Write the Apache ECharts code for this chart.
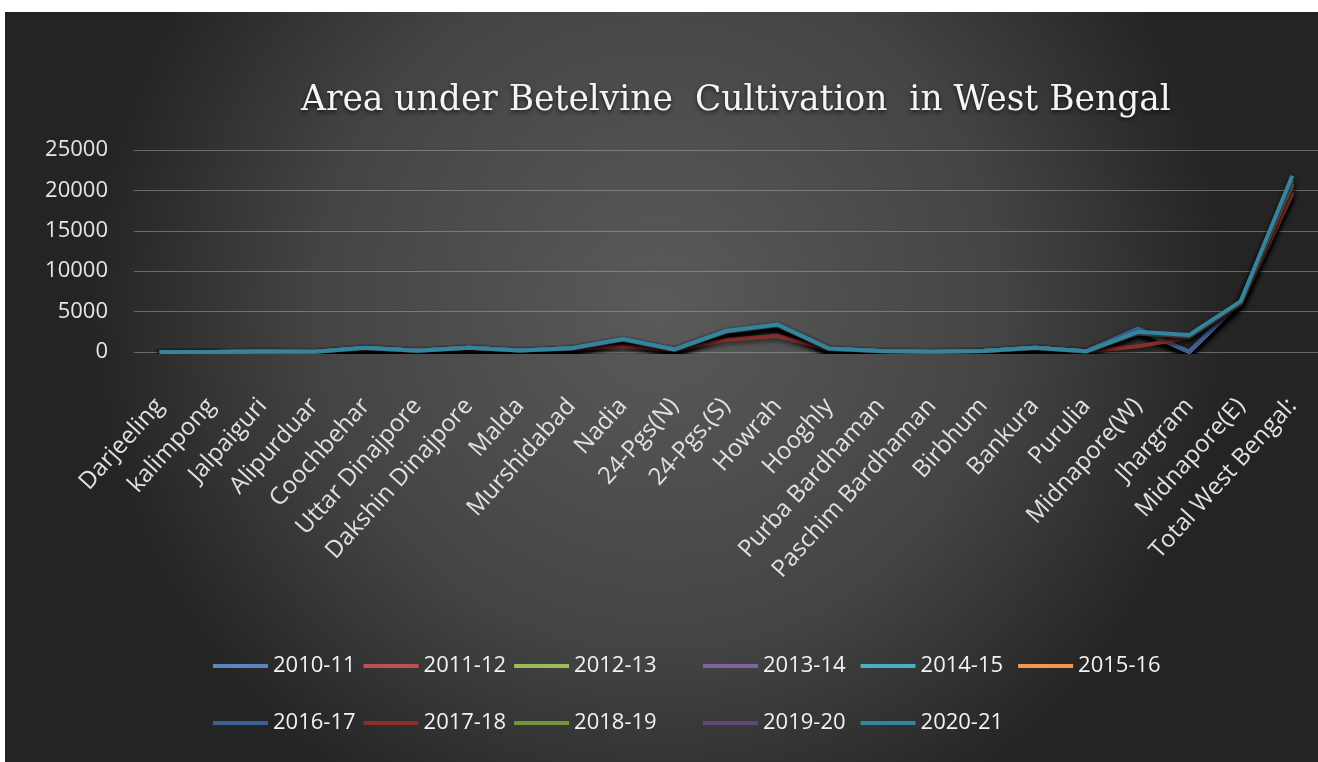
<!DOCTYPE html>
<html>
<head>
<meta charset="utf-8">
<script src="https://cdn.jsdelivr.net/npm/echarts@6/dist/echarts.min.js"></script>
<style>
html,body{margin:0;padding:0;background:#fff;}
#chart{width:1318px;height:762px;}
</style>
</head>
<body>
<div id="chart"></div>
<script>
var title = 'Area under Betelvine  Cultivation  in West Bengal';
var districts = ['Darjeeling','kalimpong','Jalpaiguri','Alipurduar','Coochbehar','Uttar Dinajpore','Dakshin Dinajpore','Malda','Murshidabad','Nadia','24-Pgs(N)','24-Pgs.(S)','Howrah','Hooghly','Purba Bardhaman','Paschim Bardhaman','Birbhum','Bankura','Purulia','Midnapore(W)','Jhargram','Midnapore(E)','Total West Bengal:'];
var years = ['2010-11','2011-12','2012-13','2013-14','2014-15','2015-16','2016-17','2017-18','2018-19','2019-20','2020-21'];
var yTicks = [0, 5000, 10000, 15000, 20000, 25000];

var y2010_11 = [10,0,40,10,450,120,480,150,420,1450,280,2400,3100,380,90,10,100,480,60,2600,0,6100,19500];
var y2011_12 = [10,0,40,10,460,120,490,150,430,1480,290,2450,3150,390,90,10,100,490,60,2650,0,6150,19700];
var y2012_13 = [10,0,40,10,470,130,500,160,430,1500,290,2480,3200,390,100,10,110,500,70,2700,0,6200,19900];
var y2013_14 = [10,0,40,10,480,130,500,160,440,1520,300,2500,3250,400,100,10,110,500,70,2750,0,6250,20200];
var y2014_15 = [10,0,40,10,500,140,520,170,450,1550,300,2550,3300,410,100,10,110,520,70,2800,0,6300,20500];
var y2015_16 = [10,0,40,10,500,140,520,170,450,1560,310,2580,3350,410,100,10,110,520,70,2850,0,6350,20800];
var y2016_17 = [10,10,40,20,520,150,540,180,460,1600,320,2620,3400,420,110,20,120,540,80,2900,0,6400,21200];
var y2017_18 = [10,10,40,20,380,120,420,140,380,700,220,1500,2000,300,80,10,90,420,50,700,1800,5900,19600];
var y2018_19 = [10,10,40,20,500,140,520,170,450,1500,300,2500,3300,400,100,10,110,500,70,2300,1900,6100,20800];
var y2019_20 = [10,10,40,20,510,150,530,180,460,1550,310,2550,3350,410,110,20,120,510,80,2400,2000,6200,21300];
var y2020_21 = [10,10,40,20,520,150,540,180,470,1600,320,2600,3400,420,110,20,120,520,80,2500,2100,6300,21800];

var seriesValues = [y2010_11,y2011_12,y2012_13,y2013_14,y2014_15,y2015_16,y2016_17,y2017_18,y2018_19,y2019_20,y2020_21];
var colors = ['#5b86bd','#c0504d','#9bbb59','#8064a2','#4bacc6','#f79646','#3a6196','#8b2f2d','#77933c','#5f4879','#31859c'];

var chart = echarts.init(document.getElementById('chart'));
var series = years.map(function(y, i){
  return {
    name: y,
    type: 'line',
    data: seriesValues[i],
    symbol: 'none',
    smooth: false,
    lineStyle: {width: 4, color: colors[i], shadowColor: 'rgba(0,0,0,0.55)', shadowBlur: 4, shadowOffsetY: 3},
    itemStyle: {color: colors[i]},
    z: 2 + i
  };
});

var legendText = {color: '#f2f2f2', fontSize: 22, fontFamily: 'Open Sans'};
var legendIcon = 'path://M0,5 L55,5 L55,9 L0,9 Z';
function makeLegend(items, left, top, gap) {
  return {data: items, left: left, top: top, itemWidth: 55, itemHeight: 14, itemGap: gap,
          icon: legendIcon, textStyle: legendText};
}

chart.setOption({
  animation: false,
  backgroundColor: {
    type: 'radial', x: 0.5, y: 0.4, r: 0.75,
    colorStops: [{offset: 0, color: '#5a5a5a'}, {offset: 0.6, color: '#444444'}, {offset: 1, color: '#242424'}]
  },
  color: colors,
  graphic: [
    {type: 'rect', left: 0, top: 0, shape: {width: 1318, height: 12}, style: {fill: '#ffffff'}, z: 100},
    {type: 'rect', left: 0, top: 0, shape: {width: 5, height: 762}, style: {fill: '#ffffff'}, z: 100}
  ],
  title: {
    text: title,
    left: 296, top: 79,
    textStyle: {color: '#f5f5f5', fontSize: 34.5, fontFamily: 'DejaVu Serif', fontWeight: 'normal',
      textShadowColor: 'rgba(0,0,0,0.7)', textShadowBlur: 4, textShadowOffsetY: 2}
  },
  legend: [
    makeLegend(years.slice(0, 3), 208, 650, 8),
    makeLegend(years.slice(3, 6), 698, 650, 15),
    makeLegend(years.slice(6, 9), 208, 707, 8),
    makeLegend(years.slice(9), 698, 707, 15)
  ],
  grid: {left: 134, right: -11, top: 150, bottom: 410, containLabel: false},
  xAxis: {
    type: 'category',
    data: districts,
    boundaryGap: true,
    axisLine: {show: false},
    axisTick: {show: false},
    axisLabel: {rotate: 48, interval: 0, margin: 50, color: '#e0e0e0', fontSize: 24, fontFamily: 'Open Sans'}
  },
  yAxis: {
    type: 'value',
    min: yTicks[0], max: yTicks[yTicks.length - 1], interval: 5000,
    axisLine: {show: false},
    axisTick: {show: false},
    axisLabel: {margin: 26, color: '#e6e6e6', fontSize: 22, fontFamily: 'Open Sans', formatter: function(v){ return String(v); }},
    splitLine: {lineStyle: {color: 'rgba(170,170,170,0.5)', width: 1}}
  },
  series: series
});
</script>
</body>
</html>
